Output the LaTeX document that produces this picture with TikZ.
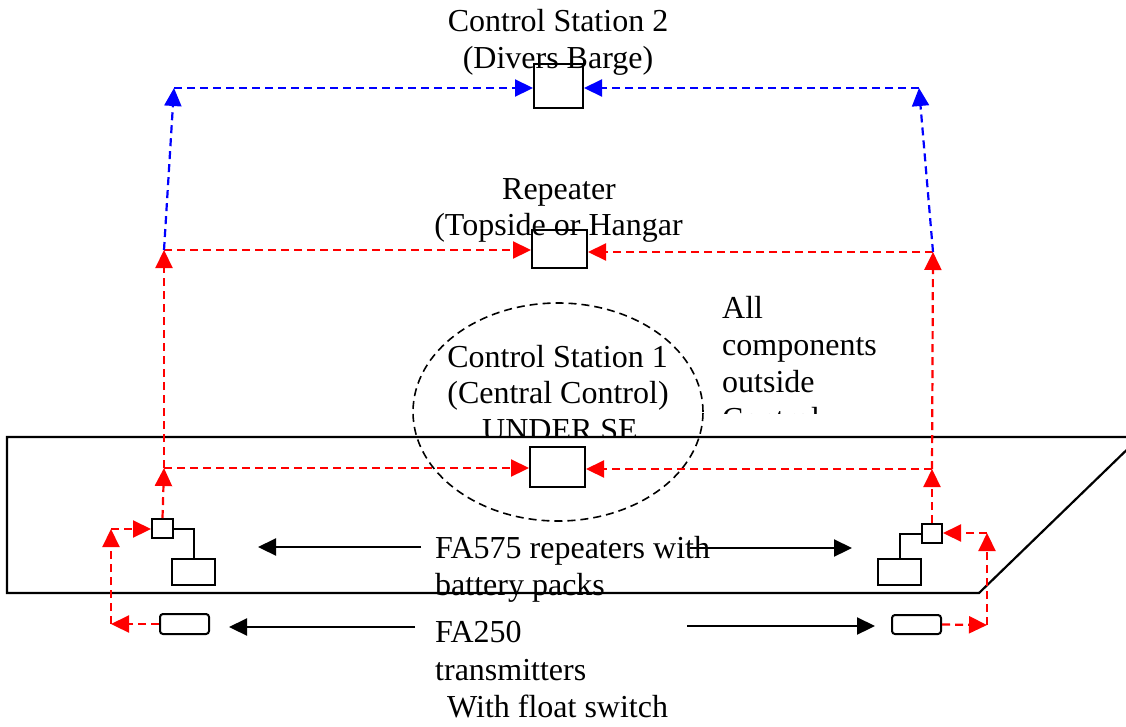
\documentclass[tikz,border=0pt]{standalone}
\usepackage{fontspec}
\setmainfont{Liberation Serif}
\usetikzlibrary{arrows.meta,shapes.geometric}
\begin{document}
\begin{tikzpicture}[x=1pt,y=-1pt,
  lbl/.style={font=\fontsize{32}{37}\selectfont, inner sep=0pt, anchor=base},
  lbll/.style={lbl, anchor=base west},
  unit/.style n args={2}{draw=black, line width=2pt, inner sep=0pt, minimum width=#1, minimum height=#2, rectangle},
  tx/.style n args={2}{unit={#1}{#2}, rounded corners=3pt},
  reddash/.style={draw=red, line width=2.2pt, dash pattern=on 8pt off 5pt, -{Triangle[length=18pt,width=17pt]}, red},
  bluedash/.style={draw=blue, line width=2.2pt, dash pattern=on 8pt off 5pt, -{Triangle[length=18pt,width=17pt]}, blue},
  blk/.style={draw=black, line width=2.2pt, -{Triangle[length=18pt,width=17pt]}},
  wire/.style={draw=black, line width=2pt}]
\useasboundingbox (0,0) rectangle (1126,726);

% ship outline
\begin{scope}
\clip (0,0) rectangle (1126,726);
\draw[line width=2.2pt] (7,437) -- (1140,437) -- (979,593) -- (7,593) -- cycle;
\end{scope}

% grouping ellipse
\node[ellipse, draw=black, line width=1.6pt, dash pattern=on 8pt off 5pt, minimum width=290, minimum height=218, inner sep=0pt] (zone) at (558,412) {};

% texts
\node[lbl] (t2a) at (558,31) {Control Station 2};
\node[lbl] (t2b) at (558,68) {(Divers Barge)};
\node[lbl] (tra) at (559,199) {Repeater};
\node[lbl] (trb) at (558.5,235) {(Topside or Hangar};
\node[lbl] (t1a) at (557.5,367) {Control Station 1};
\node[lbl] (t1b) at (558,403) {(Central Control)};
\begin{scope}
\clip (400,405) rectangle (720,437);
\node[lbl] (t1c) at (560,440) {UNDER SE};
\end{scope}
\node[lbll] (ta1) at (722,318) {All};
\node[lbll] (ta2) at (722,355) {components};
\node[lbll] (ta3) at (722,392) {outside};
\begin{scope}
\clip (700,395) rectangle (900,413);
\node[lbll] (ta4) at (722,429) {Control};
\end{scope}
\node[lbll] (tf1) at (435,558) {FA575 repeaters with};
\node[lbll] (tf2) at (435,595) {battery packs};
\node[lbll] (tg1) at (435,642) {FA250};
\node[lbll] (tg2) at (435,680) {transmitters};
\node[lbll] (tg3) at (447,717) {With float switch};

% units
\node[unit={49}{44}] (cs2) at (558.5,86) {};
\node[unit={55}{38}] (rep) at (559.5,249) {};
\node[unit={55}{40}] (cs1) at (557.5,467) {};
\node[unit={21}{19}] (sqL) at (162.5,528.5) {};
\node[unit={43}{26}] (batL) at (193.5,572) {};
\node[unit={20}{19}] (sqR) at (932,533.5) {};
\node[unit={43}{26}] (batR) at (899.5,572) {};
\node[tx={49}{20}] (txL) at (184.5,624) {};
\node[tx={49}{19}] (txR) at (916.5,624.5) {};

% wiring repeater to battery pack
\draw[wire] (sqL.east) -| (batL.north);
\draw[wire] (sqR.west) -| (batR.north);

% junction coordinates
\coordinate (jL) at (164,468);
\coordinate (tL) at (164,250);
\coordinate (bL) at (174,88);
\coordinate (jR) at (932,469);
\coordinate (tR) at (933,252);
\coordinate (bR) at (919,88);
\coordinate (cL) at (111,624);
\coordinate (dL) at (111,529);
\coordinate (cR) at (987,625);
\coordinate (dR) at (987,533);

% red links
\draw[reddash] (sqL.north) -- (jL);
\draw[reddash] (jL) -- (jL -| cs1.west);
\draw[reddash] (jL) -- (tL);
\draw[reddash] (tL) -- (tL -| rep.west);
\draw[reddash] (sqR.north) -- (jR);
\draw[reddash] (jR) -- (jR -| cs1.east);
\draw[reddash] (jR) -- (tR);
\draw[reddash] (tR) -- (tR -| rep.east);
\draw[reddash] (txL.west) -- (cL);
\draw[reddash] (cL) -- (dL);
\draw[reddash] (dL) -- (dL -| sqL.west);
\draw[reddash] (txR.east) -- (cR);
\draw[reddash] (cR) -- (dR);
\draw[reddash] (dR) -- (dR -| sqR.east);

% blue links
\draw[bluedash] (tL) -- (bL);
\draw[bluedash] (bL) -- (bL -| cs2.west);
\draw[bluedash] (tR) -- (bR);
\draw[bluedash] (bR) -- (bR -| cs2.east);

% pointer arrows
\coordinate (f1a) at (421,547);
\coordinate (f1b) at (258,547);
\coordinate (f2a) at (690,548);
\coordinate (f2b) at (852,548);
\coordinate (g1a) at (415,627);
\coordinate (g1b) at (229,627);
\coordinate (g2a) at (687,626);
\coordinate (g2b) at (875,626);
\draw[blk] (f1a) -- (f1b);
\draw[blk] (f2a) -- (f2b);
\draw[blk] (g1a) -- (g1b);
\draw[blk] (g2a) -- (g2b);
\end{tikzpicture}
\end{document}
